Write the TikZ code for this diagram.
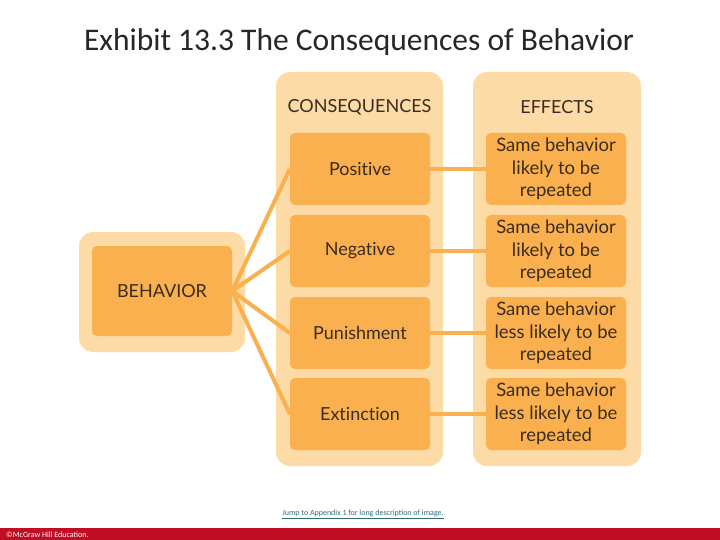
\documentclass[tikz,border=0pt]{standalone}
\usepackage{fontspec}
\setmainfont{Lato}[Ligatures=NoCommon]
\newfontfamily\titlefont{Carlito}
\definecolor{panel}{HTML}{FDDBA6}
\definecolor{boxc}{HTML}{FAB04F}
\definecolor{txt}{HTML}{3A2C1E}
\definecolor{footred}{HTML}{C00D24}
\definecolor{linkc}{HTML}{2E6F77}
\begin{document}
\begin{tikzpicture}[x=1pt,y=-1pt,
  panelbox/.style={fill=panel,draw=none,rounded corners=14pt},
  itembox/.style={fill=boxc,draw=none,rounded corners=5pt,text=txt,align=center,inner sep=0pt},
  conn/.style={draw=boxc,line width=4pt}]
\useasboundingbox (0,0) rectangle (720,540);
\fill[white] (0,0) rectangle (720,540);
\node[font=\titlefont\fontsize{31.5}{36}\selectfont,text=black!85] (title) at (359,42) {Exhibit 13.3 The Consequences of Behavior};
% panels
\fill[panelbox] (276,72) rectangle (443,466);
\fill[panelbox] (473,72) rectangle (641,466);
\fill[panelbox] (79,232) rectangle (245,352);
\node[font=\fontsize{18}{21}\selectfont,text=txt] (hcons) at (359.5,107) {CONSEQUENCES};
\node[font=\fontsize{18}{21}\selectfont,text=txt] (heff) at (557,107) {EFFECTS};
% behavior
\node[itembox,minimum width=140pt,minimum height=90pt,font=\fontsize{18}{21}\selectfont] (beh) at (162,291) {BEHAVIOR};
% consequences
\foreach \n/\t/\y in {pos/Positive/169,neg/Negative/251,pun/Punishment/333,ext/Extinction/414}{
  \node[itembox,minimum width=140pt,minimum height=72pt,font=\fontsize{18}{21}\selectfont] (\n) at (360,\y) {\t};
}
\foreach \n/\t/\y in {e1/{Same behavior\\likely to be\\repeated}/169,e2/{Same behavior\\likely to be\\repeated}/251,e3/{Same behavior\\less likely to be\\repeated}/333,e4/{Same behavior\\less likely to be\\repeated}/414}{
  \node[itembox,minimum width=140pt,minimum height=72pt,font=\fontsize{18.5}{22.5}\selectfont] (\n) at (556,\y) {\t};
}
\coordinate (bo) at (beh.east);
\foreach \n in {pos,neg,pun,ext}{ \draw[conn] (bo) -- (\n.west); }
\draw[conn] (pos.east) -- (e1.west);
\draw[conn] (neg.east) -- (e2.west);
\draw[conn] (pun.east) -- (e3.west);
\draw[conn] (ext.east) -- (e4.west);
% footer
\fill[footred] (0,528) rectangle (720,540);
\node[anchor=west,text=white,font=\fontsize{8}{9}\selectfont\titlefont,inner sep=0pt] (copy) at (6,535) {©McGraw Hill Education.};
\node[text=linkc,font=\fontsize{8}{9}\selectfont\titlefont,inner sep=0pt] (link) at (363,514) {\underline{Jump to Appendix 1 for long description of image.}};
\end{tikzpicture}
\end{document}
